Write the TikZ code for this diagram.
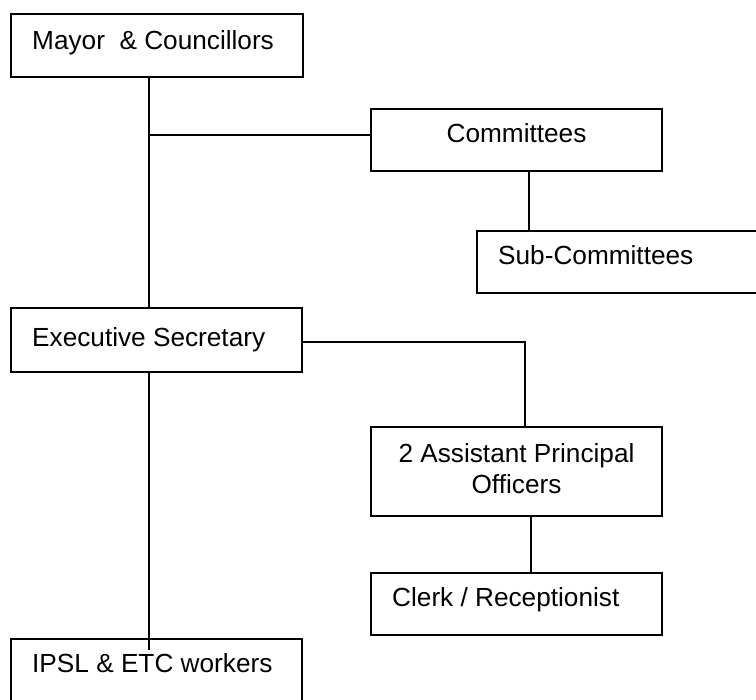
\documentclass[tikz,border=0pt]{standalone}
\usepackage{fontspec}
\setmainfont{Liberation Sans}
\begin{document}
\begin{tikzpicture}[x=1pt,y=-1pt,
  box/.style={draw, line width=1.8pt, rectangle, inner sep=0pt, outer sep=0pt, anchor=north west},
  lbl/.style={inner sep=0pt, font=\fontsize{26.2}{31}\selectfont},
  conn/.style={line width=1.8pt}]
\path[use as bounding box] (0,0) rectangle (756,700);
\clip (0,0) rectangle (756,700);
% boxes
\node[box, minimum width=292pt, minimum height=63pt] (mayor) at (11,14) {};
\node[box, minimum width=291pt, minimum height=62pt] (com) at (371,109) {};
\node[box, minimum width=300pt, minimum height=62pt] (sub) at (477,231) {};
\node[box, minimum width=291pt, minimum height=64pt] (exec) at (11,308) {};
\node[box, minimum width=291pt, minimum height=89pt] (apo) at (371,427) {};
\node[box, minimum width=291pt, minimum height=62pt] (clerk) at (371,573) {};
\node[box, minimum width=291pt, minimum height=90pt] (ipsl) at (11,639) {};
% labels
\node[lbl, anchor=base west] (tmayor) at (32,50) {Mayor \ \& Councillors};
\node[lbl, anchor=base] (tcom) at (516.5,143) {Committees};
\node[lbl, anchor=base west] (tsub) at (498,265) {Sub-Committees};
\node[lbl, anchor=base west] (texec) at (32,347) {Executive Secretary};
\node[lbl, anchor=center, align=center] (tapo) at (516.5,469) {2 Assistant Principal\\Officers};
\node[lbl, anchor=base west] (tclerk) at (392,607) {Clerk / Receptionist};
\node[lbl, anchor=base west] (tipsl) at (32,673) {IPSL \& ETC workers};
% connector helpers
\coordinate (v1) at (149,0);
\coordinate (h1) at (0,135);
\coordinate (v2) at (529,0);
\coordinate (h2) at (0,342);
\coordinate (v3) at (525,0);
\coordinate (v4) at (531,0);
\coordinate (ipslend) at (149,650);
% connectors
\draw[conn] (mayor.south -| v1) -- (exec.north -| v1);
\draw[conn] (h1 -| v1) -- (h1 -| com.west);
\draw[conn] (com.south -| v2) -- (sub.north -| v2);
\draw[conn] (h2 -| exec.east) -- (h2 -| v3) -- (apo.north -| v3);
\draw[conn] (apo.south -| v4) -- (clerk.north -| v4);
\draw[conn] (exec.south -| v1) -- (ipslend);
\end{tikzpicture}
\end{document}
